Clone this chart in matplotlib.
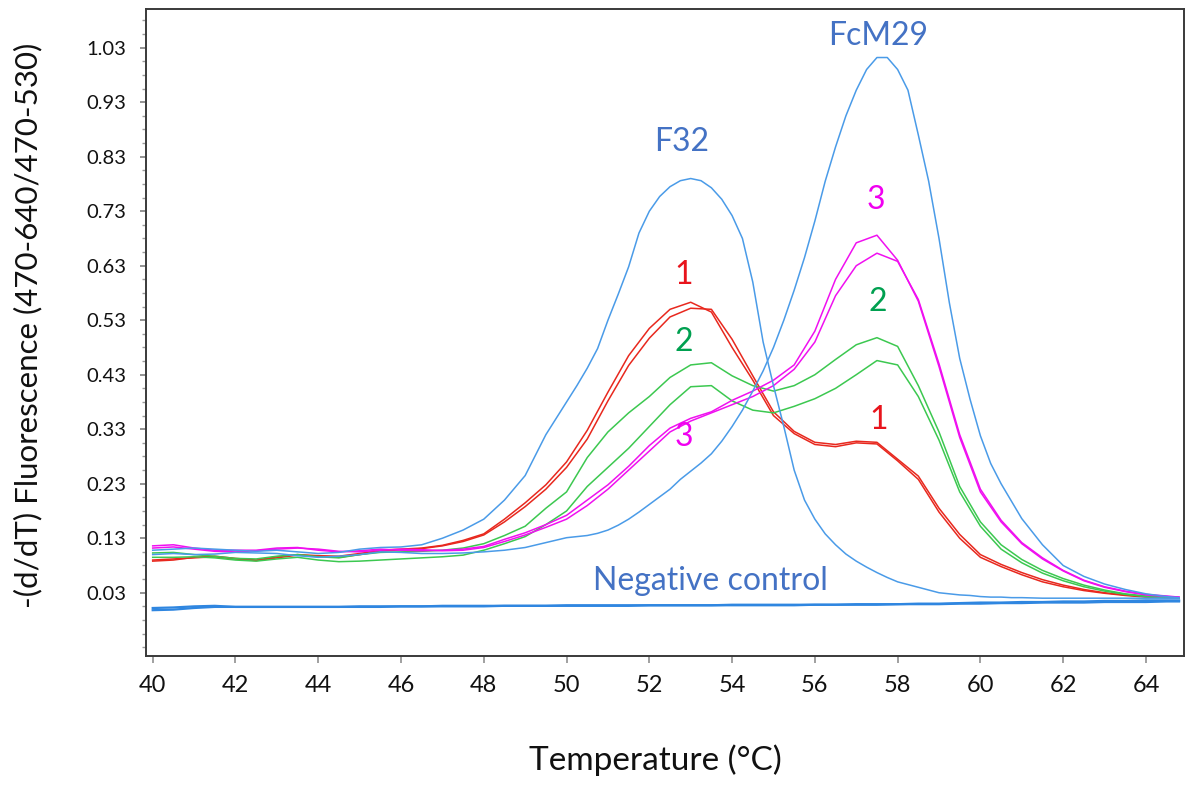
import matplotlib
matplotlib.use("Agg")
import matplotlib.pyplot as plt
from matplotlib.ticker import FixedLocator

plt.rcParams['font.family'] = ['Lato', 'DejaVu Sans']

# Temperature grid (°C) for the sample curves
temps = [40.0, 40.5, 41.0, 41.5, 42.0, 42.5, 43.0, 43.5, 44.0, 44.5,
         45.0, 45.5, 46.0, 46.5, 47.0, 47.5, 48.0, 48.5, 49.0, 49.5,
         50.0, 50.5, 51.0, 51.5, 52.0, 52.5, 53.0, 53.5, 54.0, 54.5,
         55.0, 55.5, 56.0, 56.5, 57.0, 57.5, 58.0, 58.5, 59.0, 59.5,
         60.0, 60.5, 61.0, 61.5, 62.0, 62.5, 63.0, 63.5, 64.0, 64.5, 64.8]

# Finer grid for the two control peaks (F32, FcM29)
temps_ctrl = [40.0, 40.5, 41.0, 41.5, 42.0, 42.5, 43.0, 43.5, 44.0, 44.5,
              45.0, 45.5, 46.0, 46.5, 47.0, 47.5, 48.0, 48.5, 49.0, 49.5,
              50.0, 50.25, 50.5, 50.75, 51.0, 51.25, 51.5, 51.75,
              52.0, 52.25, 52.5, 52.75, 53.0, 53.25, 53.5, 53.75,
              54.0, 54.25, 54.5, 54.75, 55.0, 55.25, 55.5, 55.75,
              56.0, 56.25, 56.5, 56.75, 57.0, 57.25, 57.5, 57.75,
              58.0, 58.25, 58.5, 58.75, 59.0, 59.25, 59.5, 59.75,
              60.0, 60.25, 60.5, 60.75, 61.0,
              61.5, 62.0, 62.5, 63.0, 63.5, 64.0, 64.5, 64.8]

f32 = [0.108, 0.110, 0.112, 0.110, 0.108, 0.106, 0.108, 0.105, 0.102, 0.104,
       0.110, 0.113, 0.114, 0.118, 0.130, 0.145, 0.165, 0.200, 0.245, 0.320,
       0.380, 0.410, 0.442, 0.478, 0.530, 0.578, 0.628, 0.690,
       0.730, 0.757, 0.775, 0.786, 0.790, 0.786, 0.773, 0.752,
       0.722, 0.680, 0.600, 0.490, 0.410, 0.335, 0.255, 0.200,
       0.165, 0.138, 0.118, 0.101, 0.088, 0.077, 0.067, 0.058,
       0.050, 0.045, 0.040, 0.035, 0.030, 0.028, 0.026, 0.025,
       0.023, 0.022, 0.022, 0.021, 0.021,
       0.020, 0.020, 0.020, 0.020, 0.020, 0.020, 0.020, 0.020]

fcm29 = [0.100, 0.102, 0.100, 0.101, 0.104, 0.103, 0.102, 0.098, 0.095, 0.097,
         0.100, 0.105, 0.104, 0.102, 0.102, 0.103, 0.105, 0.108, 0.113, 0.122,
         0.131, 0.133, 0.135, 0.139, 0.145, 0.154, 0.165, 0.178,
         0.192, 0.206, 0.220, 0.238, 0.253, 0.268, 0.285, 0.308,
         0.335, 0.365, 0.400, 0.437, 0.480, 0.530, 0.585, 0.645,
         0.712, 0.785, 0.848, 0.905, 0.952, 0.990, 1.012, 1.012,
         0.990, 0.952, 0.870, 0.785, 0.680, 0.562, 0.460, 0.385,
         0.318, 0.267, 0.230, 0.198, 0.166,
         0.118, 0.080, 0.060, 0.046, 0.036, 0.028, 0.023, 0.021]

neg_a = [0.002, 0.003, 0.005, 0.006, 0.004, 0.004, 0.004, 0.004, 0.004, 0.004,
         0.005, 0.005, 0.005, 0.005, 0.006, 0.006, 0.006, 0.006, 0.006, 0.006,
         0.007, 0.007, 0.007, 0.007, 0.007, 0.007, 0.007, 0.007, 0.008, 0.008,
         0.008, 0.008, 0.008, 0.008, 0.009, 0.009, 0.009, 0.010, 0.010, 0.011,
         0.012, 0.012, 0.013, 0.013, 0.014, 0.014, 0.015, 0.015, 0.016, 0.016, 0.016]

neg_b = [-0.002, -0.001, 0.002, 0.004, 0.004, 0.004, 0.004, 0.004, 0.004, 0.004,
         0.004, 0.004, 0.005, 0.005, 0.005, 0.005, 0.005, 0.006, 0.006, 0.006,
         0.006, 0.006, 0.006, 0.006, 0.007, 0.007, 0.007, 0.007, 0.007, 0.007,
         0.007, 0.007, 0.008, 0.008, 0.008, 0.008, 0.009, 0.009, 0.009, 0.010,
         0.010, 0.011, 0.011, 0.012, 0.012, 0.012, 0.013, 0.013, 0.013, 0.014, 0.014]

red_a = [0.088, 0.090, 0.095, 0.097, 0.093, 0.090, 0.096, 0.100, 0.098, 0.097,
         0.102, 0.108, 0.110, 0.112, 0.117, 0.126, 0.138, 0.165, 0.195, 0.228,
         0.270, 0.328, 0.398, 0.465, 0.515, 0.550, 0.563, 0.545, 0.480, 0.420,
         0.355, 0.322, 0.302, 0.298, 0.305, 0.303, 0.272, 0.238, 0.178, 0.130,
         0.095, 0.078, 0.063, 0.050, 0.041, 0.034, 0.029, 0.025, 0.022, 0.021, 0.020]

red_b = [0.090, 0.092, 0.094, 0.096, 0.092, 0.089, 0.094, 0.099, 0.097, 0.095,
         0.100, 0.106, 0.109, 0.111, 0.116, 0.124, 0.136, 0.160, 0.188, 0.220,
         0.260, 0.312, 0.382, 0.447, 0.497, 0.536, 0.552, 0.550, 0.495, 0.428,
         0.362, 0.326, 0.306, 0.302, 0.308, 0.306, 0.275, 0.244, 0.185, 0.137,
         0.100, 0.082, 0.067, 0.054, 0.044, 0.036, 0.030, 0.026, 0.023, 0.021, 0.020]

green_a = [0.103, 0.104, 0.100, 0.097, 0.093, 0.092, 0.097, 0.100, 0.096, 0.094,
           0.100, 0.104, 0.105, 0.106, 0.108, 0.112, 0.120, 0.135, 0.152, 0.185,
           0.215, 0.278, 0.325, 0.360, 0.390, 0.425, 0.448, 0.452, 0.428, 0.410,
           0.400, 0.410, 0.430, 0.458, 0.485, 0.498, 0.482, 0.410, 0.325, 0.225,
           0.160, 0.118, 0.091, 0.071, 0.056, 0.044, 0.035, 0.028, 0.024, 0.022, 0.021]

green_b = [0.095, 0.095, 0.096, 0.094, 0.090, 0.088, 0.092, 0.095, 0.090, 0.087,
           0.088, 0.090, 0.092, 0.094, 0.096, 0.099, 0.108, 0.120, 0.133, 0.155,
           0.180, 0.225, 0.260, 0.295, 0.335, 0.375, 0.408, 0.410, 0.382, 0.365,
           0.360, 0.372, 0.386, 0.405, 0.430, 0.456, 0.448, 0.390, 0.310, 0.215,
           0.152, 0.110, 0.085, 0.066, 0.052, 0.041, 0.033, 0.027, 0.023, 0.021, 0.020]

mag_a = [0.116, 0.118, 0.112, 0.108, 0.108, 0.108, 0.112, 0.113, 0.108, 0.105,
         0.107, 0.110, 0.108, 0.107, 0.108, 0.110, 0.115, 0.128, 0.140, 0.155,
         0.172, 0.200, 0.228, 0.262, 0.300, 0.332, 0.350, 0.362, 0.383, 0.400,
         0.420, 0.448, 0.510, 0.605, 0.672, 0.686, 0.640, 0.565, 0.445, 0.315,
         0.215, 0.160, 0.120, 0.092, 0.070, 0.052, 0.040, 0.032, 0.026, 0.023, 0.022]

mag_b = [0.112, 0.114, 0.110, 0.106, 0.105, 0.107, 0.110, 0.112, 0.110, 0.106,
         0.105, 0.108, 0.110, 0.109, 0.107, 0.108, 0.113, 0.124, 0.136, 0.150,
         0.165, 0.190, 0.220, 0.255, 0.290, 0.325, 0.345, 0.360, 0.375, 0.390,
         0.410, 0.440, 0.490, 0.575, 0.630, 0.653, 0.638, 0.568, 0.450, 0.320,
         0.220, 0.163, 0.122, 0.094, 0.071, 0.053, 0.041, 0.033, 0.027, 0.024, 0.022]

x_ticks = [40, 42, 44, 46, 48, 50, 52, 54, 56, 58, 60, 62, 64]
y_ticks = [0.03, 0.13, 0.23, 0.33, 0.43, 0.53, 0.63, 0.73, 0.83, 0.93, 1.03]

# annotations: (text, x, y, colour)
labels = [("F32", 52.79, 0.857, "#4472C4"),
          ("FcM29", 57.53, 1.051, "#4472C4"),
          ("1", 52.84, 0.613, "#E8141C"),
          ("2", 52.84, 0.490, "#00A050"),
          ("3", 52.84, 0.316, "#F000F0"),
          ("3", 57.48, 0.750, "#F000F0"),
          ("2", 57.53, 0.563, "#00A050"),
          ("1", 57.55, 0.347, "#E8141C"),
          ("Negative control", 53.47, 0.051, "#4472C4")]

BLUE = "#4A9BE8"
RED = "#E8281E"
GREEN = "#3CC850"
MAG = "#F010F0"

fig = plt.figure(figsize=(11.92, 7.87), dpi=100)
ax = fig.add_axes([0.1222, 0.1665, 0.8711, 0.8217])

lw = 1.1
ax.plot(temps, neg_b, color="#2F86E0", lw=1.6)
ax.plot(temps, neg_a, color="#2F86E0", lw=1.6)
ax.plot(temps, red_b, color=RED, lw=lw)
ax.plot(temps, red_a, color=RED, lw=lw)
ax.plot(temps, green_b, color=GREEN, lw=lw)
ax.plot(temps, green_a, color=GREEN, lw=lw)
ax.plot(temps, mag_b, color=MAG, lw=lw)
ax.plot(temps, mag_a, color=MAG, lw=lw)
ax.plot(temps_ctrl, f32, color=BLUE, lw=lw)
ax.plot(temps_ctrl, fcm29, color=BLUE, lw=lw)

for txt, x, y, c in labels:
    ax.text(x, y, txt, color=c, fontsize=23, ha="center", va="center")

ax.set_xlim(39.83, 64.92)
ax.set_ylim(-0.086, 1.1005)
ax.xaxis.set_major_locator(FixedLocator(x_ticks))
ax.set_xticklabels([str(t) for t in x_ticks])
ax.yaxis.set_major_locator(FixedLocator(y_ticks))
ax.set_yticklabels([f"{t:.2f}" for t in y_ticks])
ax.yaxis.set_minor_locator(FixedLocator([0.03 + 0.025 * i for i in range(-4, 43)
                                         if -0.086 < 0.03 + 0.025 * i < 1.10]))

for s in ax.spines.values():
    s.set_color("#3A3A3A")
    s.set_linewidth(1.4)

ax.tick_params(axis="y", which="major", direction="out", length=4, width=1.2,
               color="#808080", labelsize=14.5, pad=10, labelcolor="#111111")
ax.tick_params(axis="y", which="minor", direction="out", length=3, width=1.0,
               color="#9A9A9A")
ax.tick_params(axis="x", which="major", direction="out", length=5, width=1.4,
               color="#A0A0A0", labelsize=17, pad=9, labelcolor="#111111")

fig.text(28 / 1192, 1 - 325 / 787, "-(d/dT) Fluorescence (470-640/470-530)",
         rotation=90, ha="center", va="center", fontsize=22.5, color="#111111")
fig.text(655 / 1192, 1 - 760 / 787, "Temperature (°C)",
         ha="center", va="center", fontsize=24, color="#111111")

fig.savefig("out.png", dpi=100, facecolor="white")
